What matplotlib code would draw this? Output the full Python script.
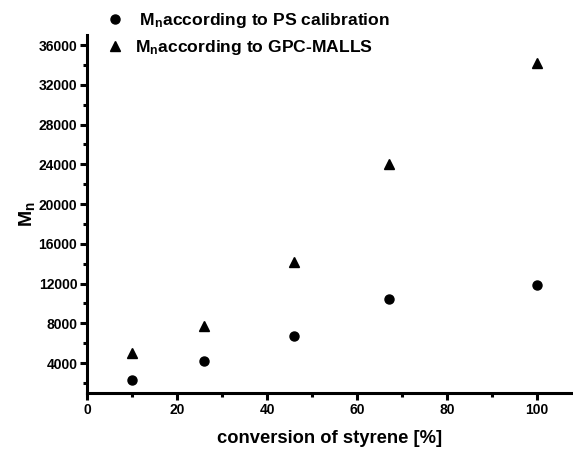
import matplotlib
matplotlib.use("Agg")
import matplotlib.pyplot as plt
from matplotlib.ticker import MultipleLocator

plt.rcParams['font.family'] = ['Liberation Sans', 'DejaVu Sans']
plt.rcParams['font.weight'] = 'bold'
plt.rcParams['mathtext.fontset'] = 'custom'
plt.rcParams['mathtext.rm'] = 'Liberation Sans:bold'
plt.rcParams['mathtext.bf'] = 'Liberation Sans:bold'
plt.rcParams['mathtext.it'] = 'Liberation Sans:bold'

# conversion of styrene [%]
conversion = [10, 26, 46, 67, 100]
# number-average molar mass from PS calibration
mn_ps = [2300, 4200, 6700, 10400, 11900]
# number-average molar mass from GPC-MALLS
mn_malls = [5000, 7700, 14200, 24000, 34200]

x_ticks = [0, 20, 40, 60, 80, 100]
y_ticks = [4000, 8000, 12000, 16000, 20000, 24000, 28000, 32000, 36000]

fig = plt.figure(figsize=(5.73, 4.5), dpi=100)
ax = fig.add_axes([0.152, 0.127, 0.848, 0.795])

l1, = ax.plot(conversion, mn_ps, 'o', color='black', markersize=6.5, linestyle='none')
l2, = ax.plot(conversion, mn_malls, '^', color='black', markersize=7, linestyle='none')

ax.set_xlim(0, 108)
ax.set_ylim(1000, 37000)
ax.set_xticks(x_ticks)
ax.set_yticks(y_ticks)
ax.xaxis.set_minor_locator(MultipleLocator(10))
ax.yaxis.set_minor_locator(MultipleLocator(2000))

for side in ('top', 'right'):
    ax.spines[side].set_visible(False)
for side in ('left', 'bottom'):
    ax.spines[side].set_linewidth(2.2)

ax.tick_params(which='major', direction='out', length=5, width=2.2,
               labelsize=10, pad=2)
ax.tick_params(which='minor', direction='out', length=3, width=2.2)
for lab in ax.get_xticklabels() + ax.get_yticklabels():
    lab.set_fontweight('bold')

ax.set_xlabel('conversion of styrene [%]', fontsize=13.2, fontweight='bold', labelpad=10)
ax.set_ylabel(r'$\mathrm{M}_\mathrm{n}$', fontsize=14, fontweight='bold', labelpad=1)

fig.legend([l1, l2],
           [r' $\mathrm{M}_\mathrm{n}$according to PS calibration',
            r'$\mathrm{M}_\mathrm{n}$according to GPC-MALLS'],
           loc='upper left', bbox_to_anchor=(0.163, 1.003), frameon=False,
           fontsize=12.6, handletextpad=0.6, labelspacing=0.45,
           handlelength=1.05, borderaxespad=0.3)

fig.savefig('out.png', dpi=100)
